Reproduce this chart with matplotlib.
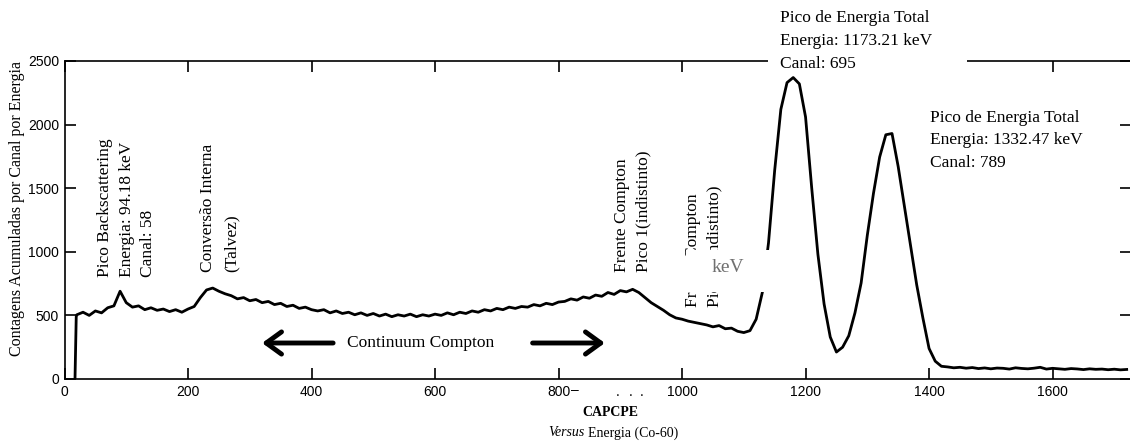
"""Co-60 gamma spectrum: counts per channel vs energy (CAPCPE)"""

import numpy as np
import matplotlib
matplotlib.use('Agg')
import matplotlib.pyplot as plt
from matplotlib.patches import Rectangle

# leading edge of the spectrum (channel, counts)
edge_channels = [17, 19]
edge_counts = [0, 490]

# counts read every 10 channels, from channel 20 to 1720
channels = np.arange(20, 1730, 10)
counts = [
    505, 525, 500, 535, 520, 560, 575, 690, 600, 565,
    575, 545, 560, 540, 550, 530, 545, 525, 550, 570,
    640, 700, 715, 690, 670, 655, 630, 640, 615, 625,
    600, 610, 585, 595, 570, 580, 555, 565, 545, 535,
    545, 520, 535, 515, 525, 505, 520, 500, 515, 495,
    510, 490, 505, 495, 510, 490, 505, 495, 510, 500,
    520, 505, 525, 515, 535, 525, 545, 535, 555, 545,
    565, 555, 570, 565, 585, 575, 595, 585, 605, 610,
    630, 620, 645, 635, 660, 650, 680, 665, 695, 685,
    705, 680, 640, 600, 570, 540, 505, 480, 470, 455,
    445, 435, 425, 410, 420, 395, 400, 375, 365, 380,
    470, 680, 1070, 1640, 2120, 2330, 2370, 2320, 2060, 1500,
    980, 590, 330, 212, 250, 340, 520, 755, 1130, 1460,
    1745, 1920, 1930, 1670, 1360, 1050, 740, 480, 240, 140,
    100, 95, 88, 92, 85, 90, 82, 87, 80, 86,
    84, 78, 88, 83, 80, 85, 92, 78, 84, 80,
    76, 82, 79, 74, 80, 76, 78, 73, 77, 72, 75,
]

x_ticks = [0, 200, 400, 600, 800, 1000, 1200, 1400, 1600]
y_ticks = [0, 500, 1000, 1500, 2000, 2500]

# rotated labels: (text, channel, counts at the bottom of the text)
vertical_notes = [
    ("Pico Backscattering", 66, 802),
    ("Energia: 94.18 keV", 101, 802),
    ("Canal: 58", 135, 802),
    ("Conversão Interna", 232, 841),
    ("(Talvez)", 271, 841),
    ("Frente Compton", 903, 841),
    ("Pico 1(indistinto)", 937, 841),
    ("Frente Compton", 1017, 566),
    ("Pico 2(indistinto)", 1053, 566),
]

peak1_lines = ["Pico de Energia Total", "Energia: 1173.21 keV", "Canal: 695"]
peak2_lines = ["Pico de Energia Total", "Energia: 1332.47 keV", "Canal: 789"]

W, H = 1130, 443
serif = 'Liberation Serif'
sans = 'Liberation Sans'

fig = plt.figure(figsize=(W / 100, H / 100), dpi=100)
ax = fig.add_axes([64.5 / W, (H - 379) / H, (1131 - 64.5) / W, (379 - 61) / H])

x = np.concatenate([edge_channels, channels])
y = np.concatenate([edge_counts, counts])
ax.plot(x, y, color='black', lw=2.0, solid_joinstyle='round')

ax.set_xlim(0, 1727)
ax.set_ylim(0, 2500)
ax.set_xticks(x_ticks)
ax.set_yticks(y_ticks)
ax.tick_params(direction='in', length=8, width=1.2, top=True, right=True,
               labelsize=10, pad=4)
for lab in ax.get_xticklabels() + ax.get_yticklabels():
    lab.set_family(sans)
for sp in ax.spines.values():
    sp.set_linewidth(1.2)

# rotated annotations
for txt, cx, cy in vertical_notes:
    ax.text(cx, cy, txt, rotation=90, ha='center', va='bottom',
            family=serif, fontsize=12.5, zorder=4)

# white patch that hides part of the second Compton edge label
ax.add_patch(Rectangle((1006, 684), 136, 330, facecolor='white',
                       edgecolor='none', zorder=6))
ax.text(1074, 873, "keV", ha='center', va='center', family=serif,
        fontsize=14, color='#707070', zorder=7)

# Compton continuum arrows
arrow = dict(arrowstyle='->,head_length=0.55,head_width=0.4', lw=3.5,
             color='black', mutation_scale=20, shrinkA=0, shrinkB=0)
ax.annotate('', xy=(320, 283), xytext=(435, 283), arrowprops=arrow)
ax.annotate('', xy=(875, 283), xytext=(758, 283), arrowprops=arrow)
ax.text(577, 283, "Continuum Compton", ha='center', va='center',
        family=serif, fontsize=12.5)

# white box over the top spine, holding the first peak label
fig.patches.append(Rectangle((768 / W, 1 - 74 / H), 199 / W, 74 / H,
                             transform=fig.transFigure, facecolor='white',
                             edgecolor='none', zorder=5))
for i, line in enumerate(peak1_lines):
    fig.text(780 / W, 1 - (18 + 23 * i) / H, line, ha='left', va='center',
             family=serif, fontsize=12.5, zorder=6)
for i, line in enumerate(peak2_lines):
    fig.text(930 / W, 1 - (118 + 22.5 * i) / H, line, ha='left', va='center',
             family=serif, fontsize=12.5, zorder=6)

# stray marks left near the axis labels
fig.text(575 / W, 1 - 390 / H, "–", ha='center', va='center', family=sans,
         fontsize=10)
for px in [618, 631, 642]:
    fig.text(px / W, 1 - 392 / H, ".", ha='center', va='center', family=sans,
             fontsize=10)

# axis titles
fig.text(17 / W, 1 - 208 / H, "Contagens Acumuladas por Canal por Energia",
         rotation=90, ha='center', va='center', family=serif, fontsize=11.5)
fig.text(610 / W, 1 - 413 / H, "CAPCPE", ha='center', va='center',
         family=serif, fontsize=10, fontweight='bold')
fig.text(548 / W, 1 - 433 / H, "Versus", ha='left', va='center',
         family=serif, fontstyle='italic', fontsize=10)
fig.text(588 / W, 1 - 433 / H, "Energia (Co-60)", ha='left', va='center',
         family=serif, fontsize=10)

fig.savefig('out.png', dpi=100)
